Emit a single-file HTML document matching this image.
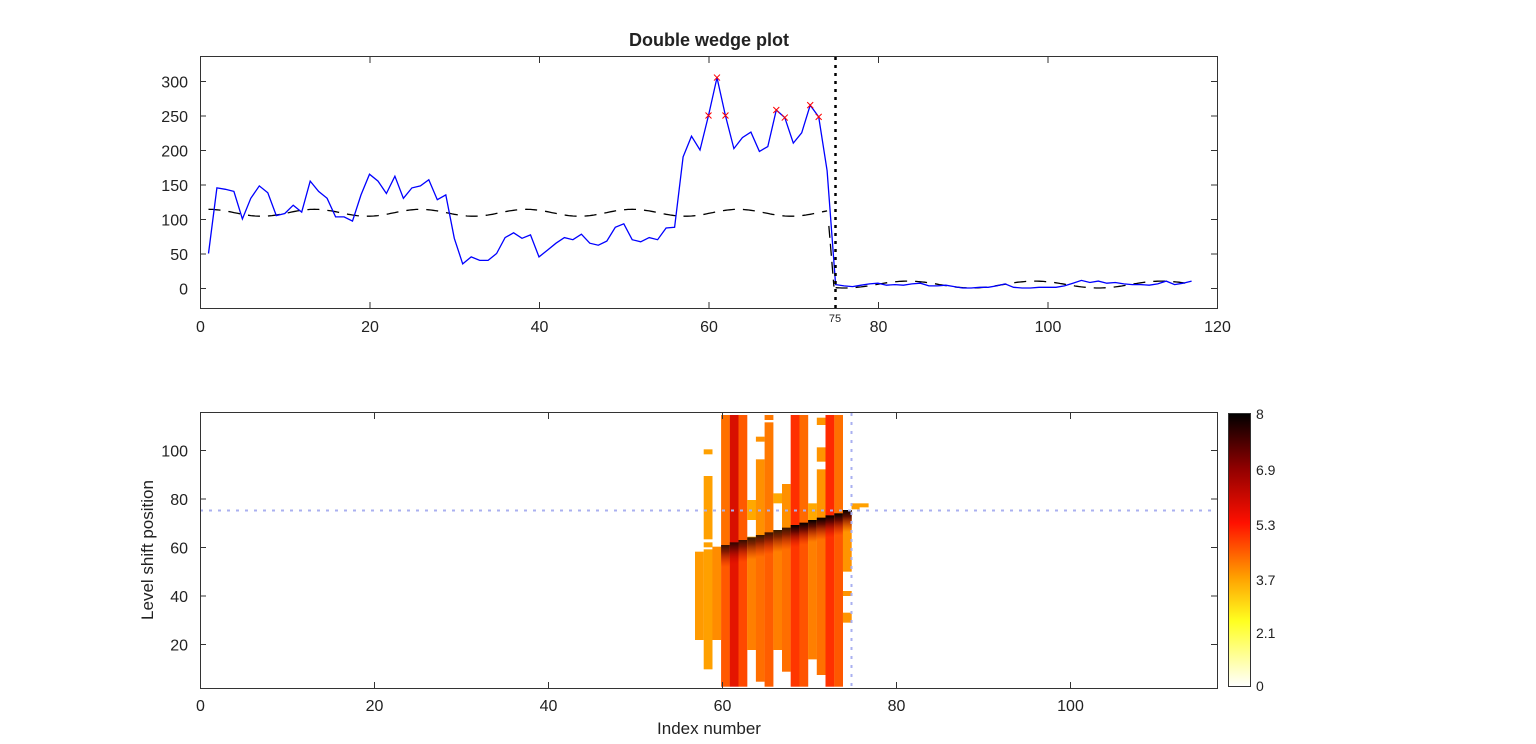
<!DOCTYPE html>
<html><head><meta charset="utf-8"><style>
body{margin:0;background:#fff;width:1536px;height:744px;overflow:hidden}
svg{display:block;font-family:"Liberation Sans",sans-serif}
</style></head><body>
<svg id="s" width="1536" height="744" xmlns="http://www.w3.org/2000/svg">
<defs>
<linearGradient id="cb" x1="0" y1="1" x2="0" y2="0">
<stop offset="0" stop-color="#ffffff"/>
<stop offset="0.24" stop-color="#ffff20"/>
<stop offset="0.4" stop-color="#ffa000"/>
<stop offset="0.6" stop-color="#ff1000"/>
<stop offset="0.8" stop-color="#900000"/>
<stop offset="1" stop-color="#000000"/>
</linearGradient>
<linearGradient id="dk" x1="0" y1="0" x2="0" y2="1">
<stop offset="0" stop-color="#000" stop-opacity="1"/>
<stop offset="0.3" stop-color="#500000" stop-opacity="0.9"/>
<stop offset="1" stop-color="#d00000" stop-opacity="0"/>
</linearGradient>
</defs>
<text x="709" y="46" font-size="18" font-weight="bold" text-anchor="middle" fill="#222">Double wedge plot</text>
<g id="gtop"></g>
<g id="gbot"></g>
<rect x="200.5" y="56.5" width="1017" height="252" fill="none" stroke="#333" stroke-width="1"/>
<rect x="200.5" y="412.5" width="1017" height="276" fill="none" stroke="#333" stroke-width="1"/>
<rect x="1228.5" y="413.5" width="22" height="273" fill="url(#cb)" stroke="#333"/>
<g font-size="14" fill="#222">
<text x="1256" y="419">8</text><text x="1256" y="475">6.9</text><text x="1256" y="530">5.3</text>
<text x="1256" y="585">3.7</text><text x="1256" y="638">2.1</text><text x="1256" y="691">0</text>
</g>
<text transform="translate(153,550) rotate(-90)" font-size="17" text-anchor="middle" fill="#222">Level shift position</text>
<text x="709" y="734" font-size="17" text-anchor="middle" fill="#222">Index number</text>
<g id="ticks" font-size="16" fill="#222"></g>
</svg>
<script>
(function(){
const NS="http://www.w3.org/2000/svg";
function el(p,t,a,txt){const e=document.createElementNS(NS,t);for(const k in a)e.setAttribute(k,a[k]);if(txt!=null)e.textContent=txt;p.appendChild(e);return e;}
const gTop=document.getElementById('gtop'),gBot=document.getElementById('gbot'),tk=document.getElementById('ticks');
const tx=i=>200+i*8.475, ty=v=>288-v*0.69;
const d=[50,145,143,140,100,130,148,138,105,108,120,110,155,140,130,103,103,97,135,165,155,137,162,130,145,148,157,128,135,72,35,45,40,40,50,73,80,72,77,45,55,65,73,70,78,65,62,68,88,93,70,67,73,70,87,88,190,220,200,250,305,250,202,218,226,198,205,258,247,210,225,265,248,170,5,3,2,4,6,7,4,5,4,6,7,3,3,4,2,0,0,1,1,3,6,1,0,0,1,1,1,3,7,11,8,10,7,8,6,5,5,4,6,10,5,7,10];
let p1=[];for(let i=1;i<=74;i+=0.25)p1.push(tx(i).toFixed(1)+','+ty(109+5*Math.cos(2*Math.PI*(i-1)/12.5)).toFixed(1));
el(gTop,'polyline',{points:p1.join(' '),fill:'none',stroke:'#000','stroke-width':1.3,'stroke-dasharray':'12,8'});
el(gTop,'line',{x1:tx(74.2),y1:ty(90),x2:tx(74.8),y2:ty(2),stroke:'#000','stroke-width':1.3,'stroke-dasharray':'12,6'});
let p2=[];for(let i=75;i<=117;i+=0.25)p2.push(tx(i).toFixed(1)+','+ty(5-5*Math.cos(2*Math.PI*(i-76)/15)).toFixed(1));
el(gTop,'polyline',{points:p2.join(' '),fill:'none',stroke:'#000','stroke-width':1.3,'stroke-dasharray':'12,8'});
el(gTop,'polyline',{points:d.map((v,i)=>tx(i+1).toFixed(1)+','+ty(v).toFixed(1)).join(' '),fill:'none',stroke:'#0000ff','stroke-width':1.3});
[[60,250],[61,305],[62,250],[68,258],[69,247],[72,265],[73,248]].forEach(([i,v])=>{const x=tx(i),y=ty(v);
el(gTop,'path',{d:`M${x-3},${y-3}L${x+3},${y+3}M${x-3},${y+3}L${x+3},${y-3}`,stroke:'#f00','stroke-width':1});});
el(gTop,'line',{x1:835.5,y1:57,x2:835.5,y2:308,stroke:'#000','stroke-width':2.5,'stroke-dasharray':'3,5'});
el(tk,'text',{x:835,y:322,'font-size':11,'text-anchor':'middle'},'75');
[0,20,40,60,80,100,120].forEach(v=>{const x=200.5+v*8.475;el(tk,'text',{x:x,y:332,'text-anchor':'middle'},v);
el(tk,'line',{x1:x,y1:308,x2:x,y2:302,stroke:'#333'});el(tk,'line',{x1:x,y1:57,x2:x,y2:63,stroke:'#333'});});
[0,50,100,150,200,250,300].forEach(v=>{const y=ty(v)+0.5;el(tk,'text',{x:188,y:y+6,'text-anchor':'end'},v);
el(tk,'line',{x1:200,y1:y,x2:206,y2:y,stroke:'#333'});el(tk,'line',{x1:1217,y1:y,x2:1211,y2:y,stroke:'#333'});});
const bx=i=>200+i*8.7, by=v=>692.5-v*2.425;
[0,20,40,60,80,100].forEach(v=>{const x=bx(v)+0.5;el(tk,'text',{x:x,y:711,'text-anchor':'middle'},v);
el(tk,'line',{x1:x,y1:688,x2:x,y2:682,stroke:'#333'});el(tk,'line',{x1:x,y1:413,x2:x,y2:419,stroke:'#333'});});
[20,40,60,80,100].forEach(v=>{const y=by(v)+0.5;el(tk,'text',{x:188,y:y+6,'text-anchor':'end'},v);
el(tk,'line',{x1:200,y1:y,x2:206,y2:y,stroke:'#333'});el(tk,'line',{x1:1217,y1:y,x2:1211,y2:y,stroke:'#333'});});
const Z=z=>410+z/3;
const cols=[
 ['#ff9a00',[[425,690]]],
 ['#ffa000',[[118,133],[198,388],[397,412],[418,778]]],
 ['#ff8c00',[[410,690]]],
 ['#ff7000',[[15,830]]],
 ['#d81000',[[15,830]]],
 ['#ff5a00',[[15,830]]],
 ['#ffa800',[[270,330],[380,720]]],
 ['#ff9000',[[80,95],[148,815]]],
 ['#ff7800',[[15,30],[37,830]]],
 ['#ffa800',[[250,280],[360,720]]],
 ['#ff9000',[[222,785]]],
 ['#ff4000',[[15,830]]],
 ['#ff6a00',[[15,830]]],
 ['#ffa800',[[280,748]]],
 ['#ff9400',[[23,45],[112,155],[178,795]]],
 ['#ff3800',[[15,830]]],
 ['#ff7000',[[15,830]]],
 ['#ff9400',[[300,485],[543,558],[608,638]]]
];
const diag=[null,null,null,405,397,390,382,375,367,360,353,345,338,330,323,316,310,300];
cols.forEach(([c,segs],k)=>{const x=695+8.7*k;
 segs.forEach(([a,b])=>el(gBot,'rect',{x:x,y:Z(a),width:8.8,height:Z(b)-Z(a),fill:c}));
 if(diag[k]){const y0=Z(diag[k]);
  const bottomSeg=segs[segs.length-1];const yb=Z(bottomSeg[1]);
  if(k<17) el(gBot,'rect',{x:x,y:y0,width:8.8,height:yb-y0,fill:'#ff2000',opacity:0.3});
  el(gBot,'rect',{x:x,y:y0,width:8.8,height:22,fill:'url(#dk)',opacity:k>=11?1:0.8});
 }});
[11,15].forEach(k=>{const x=695+8.7*k;el(gBot,'rect',{x:x,y:Z(15),width:8.8,height:Z(diag[k])-Z(15),fill:'#ff1000',opacity:0.35});});
el(gBot,'rect',{x:695+8.7*18,y:Z(280),width:17,height:4,fill:'#ffa000'});
el(gBot,'rect',{x:695+8.7*18,y:Z(286),width:8,height:4,fill:'#ffa000'});
el(gBot,'line',{x1:200,y1:510.5,x2:1217,y2:510.5,stroke:'#aab0f0','stroke-width':2,'stroke-dasharray':'3,6'});
el(gBot,'line',{x1:851.5,y1:413,x2:851.5,y2:688,stroke:'#aab0f0','stroke-width':2,'stroke-dasharray':'3,6'});
})();
</script>
</body></html>
